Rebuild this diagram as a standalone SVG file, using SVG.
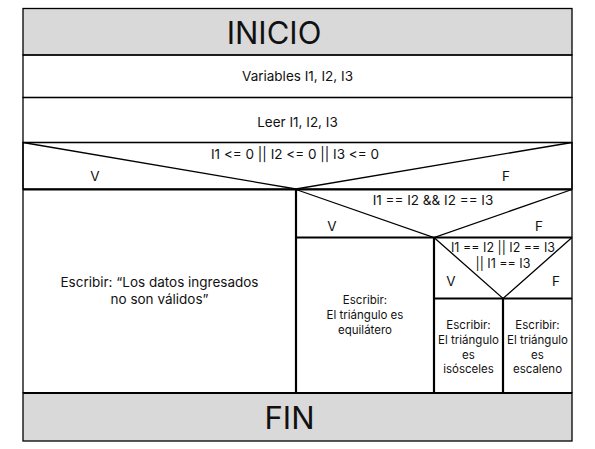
<svg xmlns="http://www.w3.org/2000/svg" width="595" height="449" viewBox="0 0 595 449">
<style>
text{font-family:Inter,"Noto Sans","Liberation Sans",sans-serif;fill:#111;text-anchor:middle}
.big{font-size:31px}
.m{font-size:13.5px}
.s{font-size:12.5px}
.xs{font-size:11.5px}
.thin{stroke:#000;stroke-width:1.3;fill:none}
.thick{stroke:#000;stroke-width:2.2;fill:none}
.gray{fill:#d9d9d9;stroke:#000;stroke-width:1.3}
</style>
<rect width="595" height="449" fill="#fff"/>
<g id="inicio">
<rect class="gray" x="23" y="8.5" width="549" height="46.5"/>
<text class="big" x="274" y="44">INICIO</text>
</g>
<g id="variables">
<rect class="thin" x="23" y="55" width="549" height="42.5"/>
<text class="m" x="297.5" y="81">Variables I1, I2, I3</text>
</g>
<g id="leer">
<rect class="thin" x="23" y="97.5" width="549" height="45"/>
<text class="m" x="297.5" y="126.5">Leer I1, I2, I3</text>
</g>
<g id="cond1">
<rect class="thin" x="23" y="142.5" width="549" height="46.5"/>
<text class="m" x="295" y="158.5">I1 &lt;= 0 || I2 &lt;= 0 || I3 &lt;= 0</text>
<text class="m" x="95" y="181">V</text>
<text class="m" x="506" y="181">F</text>
</g>
<g id="invalido">
<text class="m" x="159.5" y="286.5">Escribir: “Los datos ingresados</text>
<text class="m" x="159.5" y="303.5">no son válidos”</text>
</g>
<g id="cond2">
<text class="m" x="433" y="205">I1 == I2 &amp;&amp; I2 == I3</text>
<text class="m" x="332" y="230.5">V</text>
<text class="m" x="539" y="230.5">F</text>
</g>
<g id="equilatero">
<text class="xs" x="365" y="304">Escribir:</text>
<text class="xs" x="365" y="319">El triángulo es</text>
<text class="xs" x="365" y="334">equilátero</text>
</g>
<g id="cond3">
<text class="s" x="503" y="252">I1 == I2 || I2 == I3</text>
<text class="s" x="503" y="267.5">|| I1 == I3</text>
<text class="m" x="451" y="286">V</text>
<text class="m" x="556" y="286">F</text>
</g>
<g id="isosceles">
<text class="xs" x="468.5" y="329">Escribir:</text>
<text class="xs" x="468.5" y="344">El triángulo</text>
<text class="xs" x="468.5" y="358.5">es</text>
<text class="xs" x="468.5" y="373">isósceles</text>
</g>
<g id="escaleno">
<text class="xs" x="537.5" y="329">Escribir:</text>
<text class="xs" x="537.5" y="344">El triángulo</text>
<text class="xs" x="537.5" y="358.5">es</text>
<text class="xs" x="537.5" y="373">escaleno</text>
</g>
<g id="fin">
<rect class="gray" x="23" y="393" width="549" height="48"/>
<text class="big" x="289.5" y="429">FIN</text>
</g>
<g id="connectors">
<polyline class="thin" points="23,142.5 296,189 572,142.5"/>
<line class="thin" x1="23" y1="142.5" x2="23" y2="393"/>
<line class="thin" x1="572" y1="142.5" x2="572" y2="393"/>
<line class="thick" x1="23" y1="189.5" x2="572" y2="189.5"/>
<line class="thick" x1="296" y1="189.5" x2="296" y2="393"/>
<polyline class="thin" points="296,189.5 434,237.5 572,189.5"/>
<line class="thick" x1="296" y1="237.5" x2="572" y2="237.5"/>
<line class="thick" x1="434" y1="237.5" x2="434" y2="393"/>
<polyline class="thin" points="434,237.5 503,298.5 572,237.5"/>
<line class="thick" x1="434" y1="298.5" x2="572" y2="298.5" stroke="#444"/>
<line class="thick" x1="503" y1="298.5" x2="503" y2="393"/>
<line class="thick" x1="23" y1="393" x2="572" y2="393"/>
</g>
</svg>
